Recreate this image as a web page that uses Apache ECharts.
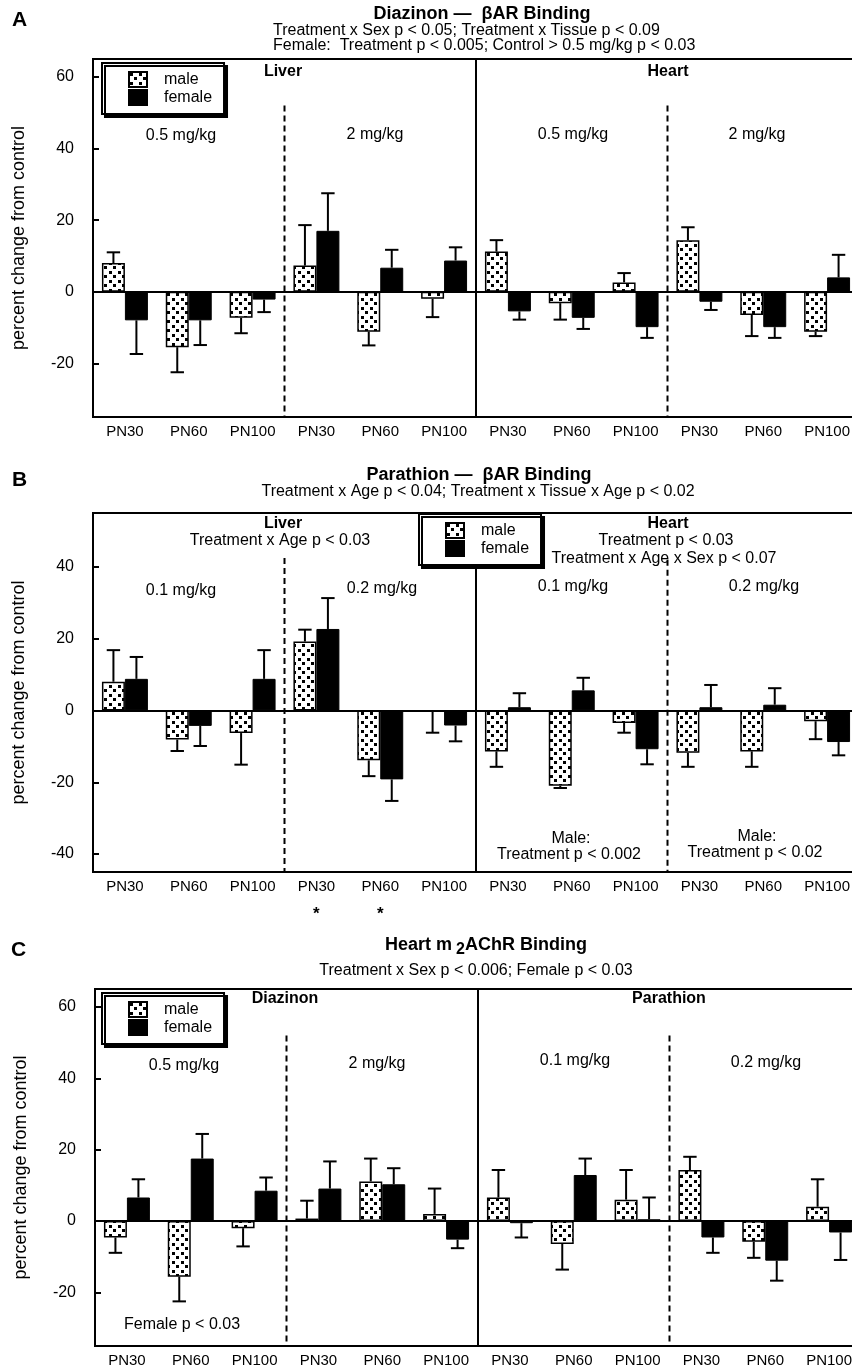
<!DOCTYPE html>
<html><head><meta charset="utf-8">
<script src="https://cdn.jsdelivr.net/npm/echarts@6/dist/echarts.min.js"></script>
<style>html,body{margin:0;padding:0;background:#fff}#c{width:852px;height:1369px}</style>
</head><body><div id="c"></div>
<script>
// ---------- data ----------
const categories = ['PN30','PN60','PN100','PN30','PN60','PN100','PN30','PN60','PN100','PN30','PN60','PN100'];

// Panel A: Diazinon — βAR binding (Liver 0.5, Liver 2, Heart 0.5, Heart 2)
const aMale      = [8, -15.5, -7.3, 7.3, -11.2, -2, 11.2, -3.2, 2.6, 14.4, -6.5, -11.2];
const aMaleSem   = [3, 7, 4.3, 11.3, 3.8, 5.1, 3.2, 4.6, 2.6, 3.6, 5.9, 1.2];
const aFemale    = [-8, -8, -2.2, 17, 6.7, 8.7, -5.5, -7.3, -9.9, -2.8, -9.9, 4];
const aFemaleSem = [9.4, 6.9, 3.5, 10.5, 5, 3.7, 2.3, 3.1, 3, 2.3, 3, 6.3];

// Panel B: Parathion — βAR binding (Liver 0.1, Liver 0.2, Heart 0.1, Heart 0.2)
const bMale      = [8, -8.1, -6.3, 19.2, -13.9, -0.3, -11.4, -21, -3.5, -11.8, -11.4, -3];
const bMaleSem   = [8.8, 3.2, 8.8, 3.3, 4.4, 5.9, 4.3, 0.6, 2.7, 3.9, 4.3, 5];
const bFemale    = [8.8, -4.3, 8.8, 22.7, -19.2, -4.2, 0.9, 5.6, -10.8, 0.9, 1.6, -8.8];
const bFemaleSem = [6.1, 5.6, 8, 8.6, 6, 4.4, 3.9, 3.5, 4.2, 6.2, 4.6, 3.7];
const bStars     = ['', '', '', '*', '*', '', '', '', '', '', '', ''];

// Panel C: Heart m2AChR binding (Diazinon 0.5, Diazinon 2, Parathion 0.1, Parathion 0.2)
const cMale      = [-4.6, -15.6, -2, 0.7, 11.1, 2, 6.6, -6.4, 6, 14.3, -5.8, 4];
const cMaleSem   = [4.3, 6.9, 5.1, 5, 6.4, 7.1, 7.7, 7.2, 8.3, 3.7, 4.5, 7.7];
const cFemale    = [6.6, 17.5, 8.5, 9.1, 10.3, -5.2, -0.6, 12.9, 0.5, -4.6, -11.1, -3.2];
const cFemaleSem = [5.1, 6.9, 3.7, 7.6, 4.5, 2.4, 4, 4.6, 6.1, 4.3, 5.6, 7.7];

const yTicksA = [-20, 0, 20, 40, 60];
const yTicksB = [-40, -20, 0, 20, 40];
const yTicksC = [-20, 0, 20, 40, 60];

// separators: [category index of left boundary, top value, dashed?]
const sepA = [[3, 52, 1], [6, 65, 0], [9, 52, 1]];
const sepB = [[3, 42.5, 1], [6, 55, 0], [9, 42, 1]];
const sepC = [[3, 52, 1], [6, 65, 0], [9, 52, 1]];

// ---------- rendering ----------
const FONT = '"Liberation Sans", Arial, Helvetica, sans-serif';
const BAR_FRAC = 0.36;

const pat = document.createElement('canvas');
pat.width = 9; pat.height = 9;
(function () {
  const g = pat.getContext('2d');
  g.fillStyle = '#fff'; g.fillRect(0, 0, 9, 9);
  g.fillStyle = '#000'; g.fillRect(1, 1, 3, 3); g.fillRect(5, 5, 3, 3);
})();
const malePattern = { image: pat, repeat: 'repeat' };

function errRender(sign) {
  return function (params, api) {
    const i = api.value(0), v = api.value(1), s = api.value(2);
    const band = api.size([1, 0])[0];
    const x = api.coord([i, v])[0] + sign * band * BAR_FRAC / 2;
    const end = v >= 0 ? v + s : v - s;
    const y0 = api.coord([i, v])[1];
    const y1 = api.coord([i, end])[1];
    const cap = band * 0.21;
    const st = { stroke: '#000', lineWidth: 2 };
    return { type: 'group', children: [
      { type: 'line', shape: { x1: x, y1: y0, x2: x, y2: y1 }, style: st },
      { type: 'line', shape: { x1: x - cap / 2, y1: y1, x2: x + cap / 2, y2: y1 }, style: st }
    ]};
  };
}
function sepRender(params, api) {
  const i = api.value(0), top = api.value(1), dashed = api.value(2);
  const band = api.size([1, 0])[0];
  const x = api.coord([i, 0])[0] - band / 2;
  const y1 = api.coord([i, top])[1];
  const y2 = params.coordSys.y + params.coordSys.height;
  return { type: 'line', shape: { x1: x, y1: y1, x2: x, y2: y2 },
    style: { stroke: '#000', lineWidth: 2, lineDash: dashed ? [6, 4] : null } };
}

const panels = [
  { grid: { left: 93, top: 59, width: 766, height: 358 }, min: -35, max: 65, ticks: yTicksA,
    male: aMale, maleSem: aMaleSem, female: aFemale, femaleSem: aFemaleSem, seps: sepA, stars: null,
    legend: { left: 102, top: 63 } },
  { grid: { left: 93, top: 513, width: 766, height: 359 }, min: -45, max: 55, ticks: yTicksB,
    male: bMale, maleSem: bMaleSem, female: bFemale, femaleSem: bFemaleSem, seps: sepB, stars: bStars,
    legend: { left: 419, top: 514 } },
  { grid: { left: 95, top: 989, width: 766, height: 357 }, min: -35, max: 65, ticks: yTicksC,
    male: cMale, maleSem: cMaleSem, female: cFemale, femaleSem: cFemaleSem, seps: sepC, stars: null,
    legend: { left: 102, top: 993 } }
];

const option = { animation: false, backgroundColor: '#fff', grid: [], xAxis: [], yAxis: [], series: [], legend: [], graphic: [] };

panels.forEach((p, k) => {
  option.grid.push(Object.assign({ show: true, borderColor: '#000', borderWidth: 2, backgroundColor: 'transparent',
    containLabel: false, outerBoundsMode: 'none' }, p.grid));
  option.xAxis.push({
    type: 'category', gridIndex: k, data: categories,
    axisLine: { lineStyle: { color: '#000', width: 2 } },
    axisTick: { inside: true, length: 5, lineStyle: { color: '#000', width: 2 } },
    axisLabel: {
      color: '#000', fontSize: 15, fontFamily: FONT, margin: 7, interval: 0, hideOverlap: false,
      formatter: p.stars ? function (v, idx) { return p.stars[idx] ? v + '\n{s|' + p.stars[idx] + '}' : v; } : null,
      rich: { s: { fontSize: 17, fontWeight: 'bold', fontFamily: FONT, color: '#000', lineHeight: 40 } }
    }
  });
  option.yAxis.push({
    type: 'value', gridIndex: k, min: p.min, max: p.max,
    name: 'percent change from control', nameLocation: 'middle', nameGap: 65,
    nameTextStyle: { color: '#000', fontSize: 18, fontFamily: FONT },
    axisLine: { show: true, lineStyle: { color: '#000', width: 2 } },
    axisTick: { show: true, inside: true, length: 6, customValues: p.ticks, lineStyle: { color: '#000', width: 2 } },
    axisLabel: { color: '#000', fontSize: 16, fontFamily: FONT, margin: 19, customValues: p.ticks },
    splitLine: { show: false }
  });
  option.series.push({
    type: 'custom', name: 'sep' + k, xAxisIndex: k, yAxisIndex: k, z: 1, silent: true,
    renderItem: sepRender, data: p.seps
  });
  option.series.push({
    type: 'bar', name: 'male', xAxisIndex: k, yAxisIndex: k, barWidth: (BAR_FRAC * 100) + '%', barGap: '0%', z: 2,
    itemStyle: { color: malePattern, borderColor: '#000', borderWidth: 1.5 },
    data: p.male,
    markLine: { silent: true, symbol: 'none', label: { show: false },
      lineStyle: { color: '#000', width: 2, type: 'solid' }, data: [{ yAxis: 0 }] }
  });
  option.series.push({
    type: 'bar', name: 'female', xAxisIndex: k, yAxisIndex: k, barWidth: (BAR_FRAC * 100) + '%', barGap: '0%', z: 2,
    itemStyle: { color: '#000', borderColor: '#000', borderWidth: 1 },
    data: p.female
  });
  option.series.push({
    type: 'custom', name: 'errM' + k, xAxisIndex: k, yAxisIndex: k, z: 3, silent: true,
    renderItem: errRender(-1), data: p.male.map((v, i) => [i, v, p.maleSem[i]])
  });
  option.series.push({
    type: 'custom', name: 'errF' + k, xAxisIndex: k, yAxisIndex: k, z: 3, silent: true,
    renderItem: errRender(1), data: p.female.map((v, i) => [i, v, p.femaleSem[i]])
  });
  option.legend.push({
    data: ['male', 'female'], orient: 'vertical', left: p.legend.left, top: p.legend.top,
    itemWidth: 18, itemHeight: 15, itemGap: 1, padding: [8, 12, 8, 26], icon: 'rect',
    backgroundColor: '#fff', borderColor: '#000', borderWidth: 2,
    shadowColor: '#000', shadowOffsetX: 3, shadowOffsetY: 3, shadowBlur: 0.01,
    selectedMode: false,
    textStyle: { color: '#000', fontSize: 16, fontFamily: FONT, padding: [0, 0, 0, 12] }
  });
});

function T(text, x, y, size, bold, align) {
  return { type: 'text', x: x, y: y, silent: true, z: 10,
    style: { text: text, fill: '#000', font: (bold ? 'bold ' : '') + size + 'px ' + FONT,
      align: align || 'center', verticalAlign: 'middle' } };
}
option.graphic = [
  // Panel A
  T('A', 12, 20, 21, true, 'left'),
  T('Diazinon \u2014  \u03b2AR Binding', 482, 14, 18, true),
  T('Treatment x Sex p < 0.05; Treatment x Tissue p < 0.09', 273, 31, 16, false, 'left'),
  T('Female:  Treatment p < 0.005; Control > 0.5 mg/kg p < 0.03', 273, 46, 16, false, 'left'),
  T('Liver', 283, 72, 16, true),
  T('Heart', 668, 72, 16, true),
  T('0.5 mg/kg', 181, 136, 16),
  T('2 mg/kg', 375, 135, 16),
  T('0.5 mg/kg', 573, 135, 16),
  T('2 mg/kg', 757, 135, 16),
  // Panel B
  T('B', 12, 480, 21, true, 'left'),
  T('Parathion \u2014  \u03b2AR Binding', 479, 475, 18, true),
  T('Treatment x Age p < 0.04; Treatment x Tissue x Age p < 0.02', 478, 492, 16),
  T('Liver', 283, 524, 16, true),
  T('Treatment x Age p < 0.03', 280, 541, 16),
  T('Heart', 668, 524, 16, true),
  T('Treatment p < 0.03', 666, 541, 16),
  T('Treatment x Age x Sex p < 0.07', 664, 559, 16),
  T('0.1 mg/kg', 181, 591, 16),
  T('0.2 mg/kg', 382, 589, 16),
  T('0.1 mg/kg', 573, 587, 16),
  T('0.2 mg/kg', 764, 587, 16),
  T('Male:', 571, 839, 16),
  T('Treatment p < 0.002', 569, 855, 16),
  T('Male:', 757, 837, 16),
  T('Treatment p < 0.02', 755, 853, 16),
  // Panel C
  T('C', 11, 950, 21, true, 'left'),
  { type: 'text', x: 486, y: 945, silent: true, z: 10,
    style: { text: '{a|Heart m}{b|2}{a|AChR Binding}', align: 'center', verticalAlign: 'middle',
      rich: {
        a: { fontSize: 18, fontWeight: 'bold', fontFamily: FONT, fill: '#000' },
        b: { fontSize: 16, fontWeight: 'bold', fontFamily: FONT, fill: '#000', padding: [10, 0, 0, 4] }
      } } },
  T('Treatment x Sex p < 0.006; Female p < 0.03', 476, 971, 16),
  T('Diazinon', 285, 999, 16, true),
  T('Parathion', 669, 999, 16, true),
  T('0.5 mg/kg', 184, 1066, 16),
  T('2 mg/kg', 377, 1064, 16),
  T('0.1 mg/kg', 575, 1061, 16),
  T('0.2 mg/kg', 766, 1063, 16),
  T('Female p < 0.03', 182, 1325, 16)
];

const chart = echarts.init(document.getElementById('c'), null, { renderer: 'canvas', width: 852, height: 1369 });
chart.setOption(option);
</script>
</body></html>
